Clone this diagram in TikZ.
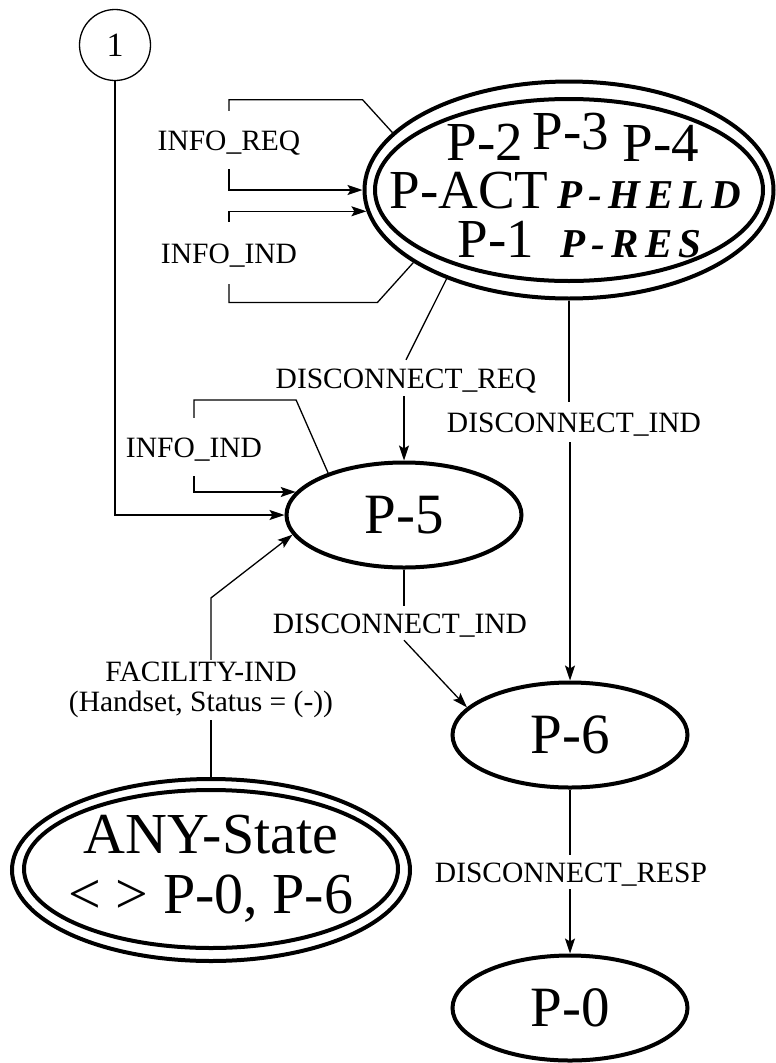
\documentclass[tikz,border=0pt]{standalone}
\usepackage{fontspec}
\setmainfont{Liberation Serif}
\newfontfamily\heldfont[LetterSpace=15]{Liberation Serif}
\usetikzlibrary{shapes,positioning,arrows.meta}

\begin{document}
\begin{tikzpicture}[x=1pt,y=-1pt,
    pstate/.style={draw, ellipse, line width=4pt, inner sep=0pt, font=\fontsize{57}{60}\selectfont},
    big/.style={inner sep=0pt, anchor=base, font=\fontsize{55}{60}\selectfont},
    held/.style={inner sep=0pt, anchor=base, font=\fontsize{41}{44}\heldfont\bfseries\itshape},
    msgfont/.style={font=\fontsize{29.5}{30}\selectfont},
    msg/.style={msgfont, anchor=base, inner xsep=2pt, text height=20pt, text depth=0pt},
    wire/.style={line width=1.3pt},
    arr/.style={wire, -{Stealth[length=15pt,width=10pt,inset=3pt]}}]
    \useasboundingbox (0,0) rectangle (776,1063);

    % connector
    \node[draw, circle, line width=1.3pt, minimum size=71pt, inner sep=0pt, font=\fontsize{34}{36}\selectfont] (c1) at (115,45) {1};

    % upper state group
    \node[pstate, minimum width=409pt, minimum height=217pt] (top) at (569,190) {};
    \node[pstate, minimum width=388pt, minimum height=182pt] (topin) at (569,190) {};
    \foreach \x/\y/\id/\name in {485/160/t2/P-2, 571/149/t3/P-3, 661/161/t4/P-4, 469/208/tact/P-ACT, 496/257/t1/P-1}
        \node[big] (\id) at (\x,\y) {\name};
    \node[held] (theld) at (649,208) {P-HELD};
    \node[held] (tres) at (631,257) {P-RES};

    % single states
    \foreach \x/\y/\id/\name in {404/515/p5/P-5, 570/735/p6/P-6, 570/1008/p0/P-0}
        \node[pstate, minimum width=235pt, minimum height=105pt] (\id) at (\x,\y) {\name};

    % ANY-State
    \node[pstate, minimum width=398pt, minimum height=182pt] (any) at (211,870) {};
    \node[pstate, minimum width=374pt, minimum height=158pt] (anyin) at (211,869) {};
    \node[inner sep=0pt, align=center, font=\fontsize{58}{60}\selectfont] (anytxt) at (211,869) {ANY-State\\< > P-0, P-6};

    % messages
    \node[msg, inner ysep=19pt] (ireq) at (229,150) {INFO\_REQ};
    \node[msg, inner ysep=21pt] (iind) at (229,263) {INFO\_IND};
    \node[msg, inner ysep=19pt] (iind5) at (194,457) {INFO\_IND};
    \node[msg, inner ysep=8pt] (dreq) at (406,388) {DISCONNECT\_REQ};
    \node[msg, inner ysep=10pt] (dind) at (574,432) {DISCONNECT\_IND};
    \node[msg, inner ysep=7pt] (dind5) at (400,633) {DISCONNECT\_IND};
    \node[msgfont, align=center, inner sep=2pt] (fac) at (201,690) {FACILITY-IND\\(Handset, Status = (-))};
    \node[msg, inner ysep=7pt] (dresp) at (571,882) {DISCONNECT\_RESP};

    % loops on the upper group
    \draw[wire] (top.162) -- ++(-30,-33) -| (ireq.north);
    \draw[arr] (ireq.south) |- (top.west);
    \draw[arr] (iind.north) |- (top.186);
    \draw[wire] (top.205) -- ++(-36,40) -| (iind.south);

    % loop on P-5
    \draw[wire] (p5.151) -- ++(-32,-73) -| (iind5.north);
    \draw[arr] (iind5.south) |- (p5.168);
    \draw[arr] (c1) |- (p5.west);

    % disconnect
    \draw[wire] (top.216) -- (dreq.north);
    \draw[arr] (p5.north |- dreq.south) -- (p5.north);
    \draw[wire] (top.south) -- (top.south |- dind.north);
    \draw[arr] (p6.north |- dind.south) -- (p6.north);
    \draw[wire] (p5.south) -- (p5.south |- dind5.north);
    \draw[arr] (p5.south |- dind5.south) -- (p6.165);
    \draw[wire] (p6.south) -- (p6.south |- dresp.north);
    \draw[arr] (p0.north |- dresp.south) -- (p0.north);

    % facility
    \draw[wire] (any.north) -- (any.north |- fac.south);
    \draw[arr] (any.north |- fac.north) -- ++(0,-62) -- (p5.190);
\end{tikzpicture}
\end{document}
